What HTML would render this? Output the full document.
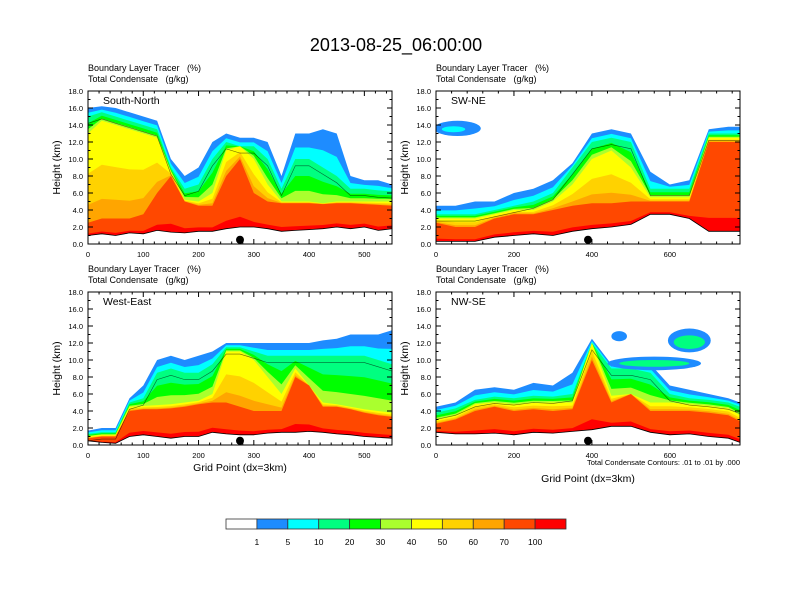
<!DOCTYPE html>
<html><head><meta charset="utf-8">
<style>
body{margin:0;background:#fff;}
svg{display:block;font-family:"Liberation Sans",sans-serif;}
</style></head>
<body>
<svg id="fig" width="792" height="612" viewBox="0 0 792 612">
<text x="396" y="51" font-size="18" text-anchor="middle">2013-08-25_06:00:00</text>
<g id="panels"></g>
<g id="cbar"></g>
</svg>
<script>
// ---- data ----
const levelLabels = ["1","5","10","20","30","40","50","60","70","100"];
const levelColors = ["#ffffff","#1e8cff","#00ffff","#00ff80","#00ff00","#aaff2e","#ffff00","#ffd200","#ffa500","#ff4800","#ff0000"];

const p1X = [0,25,50,75,100,125,150,175,200,225,250,275,300,325,350,375,400,425,450,475,500,525,550];
const p1Ground = [1.0,1.2,1.0,1.3,1.2,1.6,1.4,1.3,1.5,1.5,1.8,2.0,2.0,1.8,1.5,1.6,1.7,1.8,2.0,1.8,2.0,1.6,1.8];
const p1Red = [2.5,3,3,3,3.5,6,8,5,4.5,4.5,8,10,6,5,4.8,4.8,4.8,4.7,4.8,4.8,4.7,4.6,4.5];
const p1Yellow = [13,14.5,14,13.5,13,12.5,8.5,5.2,5,6,11,11.5,10,7,5,5,5,4.8,5,5,5,5,5];
const p1Green = [15,15.5,15,14.5,14,13.5,9,6.5,7,10,12,11.5,11.5,10,6.5,10,10,9,8,6.5,6.5,6.3,6.2];
const p1Blue = [16,16.2,16,15.5,15,14.5,10,8,9,12,13,12.5,12.5,12,8,13,13,13.5,13,8,7.5,7.5,7];

const p2X = [0,50,100,150,200,250,300,350,400,450,500,550,600,650,700,750,780];
const p2Ground = [0.3,0.3,0.3,0.8,1.0,1.2,1.0,1.5,1.8,2.0,2.3,3.5,3.5,3.0,1.5,1.5,1.5];
const p2Red = [2.5,2,2,3,3.5,3.5,4,4.5,4.8,4.8,5,5,5,5,12,12,12];
const p2Yellow = [3,3,3,3.5,4,4,5,7,10,11,9,5.5,5.5,5.5,12.5,12.5,12.5];
const p2Green = [3.5,3.5,3.5,4,4.5,5,6,9,12,12.5,12,6.5,6.5,6.5,13,13,13];
const p2Blue = [4.5,4.5,5,5,6,6.5,7.5,9.5,13,13.5,13,8.5,7,7.5,13.5,13.8,13.8];

const p3X = [0,25,50,75,100,125,150,175,200,225,250,275,300,325,350,375,400,425,450,475,500,525,550];
const p3Ground = [0.5,0.3,0.2,1.0,1.2,1.0,0.8,1.0,1.0,1.5,1.3,1.2,1.2,1.4,1.5,1.5,1.6,1.5,1.3,1.2,1.0,0.9,0.8];
const p3Red = [0.8,1,1,4,4.2,4.2,4.3,4.5,4.8,5,5,4.5,4,4,4,8,7,4.5,4.5,4.2,3.8,3.5,3.3];
const p3Yellow = [1,1.2,1.2,4.5,4.6,4.7,4.8,5,5.2,6,11,11,10,8,6,9,7,5,4.8,4.5,4.2,4,3.8];
const p3Green = [1.3,1.5,1.5,5,5.5,8.5,9,8.5,8.5,9.5,11.5,11.5,11,10.5,10.5,10.5,10.5,10.5,10.5,10.5,10.5,10,9.5];
const p3Blue = [1.7,2,2,5.5,7,10,10.5,10,10.5,11,12,12,12,12,12,12,12,12.3,12.5,13,13,13,13.5];

const p4X = [0,50,100,150,200,250,300,350,400,450,500,550,600,650,700,750,780];
const p4Ground = [1.5,1.3,1.3,1.4,1.2,1.5,1.4,1.6,1.8,2.2,2.2,1.5,1.2,1.3,1.0,0.8,0.3];
const p4Red = [2.5,3,4,4.5,4,4.2,4,4.2,10,5,6,4,4,4,3.8,3.5,2.8];
const p4Yellow = [3,3.5,4.8,5,4.8,5,5,5,12,5.8,6,5,5,4.8,4.6,4.3,3.5];
const p4Green = [3.8,4.3,5.3,5.7,5.5,5.8,5.7,6,12,9,9,8.5,6,5.5,5.3,5,4.5];
const p4Blue = [4.5,5,6.5,6.8,6.5,7.3,7,8.5,12.5,9.5,10,9.5,7,6.5,6,5.5,5];

// detached cloud blobs: [gridX, heightKm, halfWidthGrid, halfHeightKm, colorIndex]
const p1Blobs = [];
const p2Blobs = [[55,13.6,60,0.9,1],[45,13.5,30,0.35,2]];
const p3Blobs = [];
const p4Blobs = [[650,12.3,55,1.4,1],[650,12.1,40,0.8,3],[560,9.6,120,0.8,1],[560,9.6,90,0.4,3],[470,12.8,20,0.6,1]];

const panels = [
 {name:"south-north",title:"South-North",x0:88,y0:91,xmax:550,xt:[0,100,200,300,400,500],X:p1X,G:p1Ground,R:p1Red,Y:p1Yellow,Gr:p1Green,B:p1Blue,blobs:p1Blobs,dot:275,xlab:0},
 {name:"sw-ne",title:"SW-NE",x0:436,y0:91,xmax:780,xt:[0,200,400,600],X:p2X,G:p2Ground,R:p2Red,Y:p2Yellow,Gr:p2Green,B:p2Blue,blobs:p2Blobs,dot:390,xlab:0},
 {name:"west-east",title:"West-East",x0:88,y0:292,xmax:550,xt:[0,100,200,300,400,500],X:p3X,G:p3Ground,R:p3Red,Y:p3Yellow,Gr:p3Green,B:p3Blue,blobs:p3Blobs,dot:275,xlab:471},
 {name:"nw-se",title:"NW-SE",x0:436,y0:292,xmax:780,xt:[0,200,400,600],X:p4X,G:p4Ground,R:p4Red,Y:p4Yellow,Gr:p4Green,B:p4Blue,blobs:p4Blobs,dot:390,xlab:482}
];

const NS="http://www.w3.org/2000/svg";
function mk(tag,attrs,parent){const e=document.createElementNS(NS,tag);for(const k in attrs)e.setAttribute(k,attrs[k]);parent.appendChild(e);return e;}
const W=304,H=153;
const root=document.getElementById('panels');

panels.forEach(p=>{
  const g=mk('g',{},root);
  
  
  const sx=v=>p.x0+v/p.xmax*W;
  const sy=v=>p.y0+H-v/18*H;
  const clipId='clip-'+p.name;
  const cp=mk('clipPath',{id:clipId},g);
  mk('rect',{x:p.x0,y:p.y0,width:W,height:H},cp);
  const fg=mk('g',{'clip-path':'url(#'+clipId+')'},g);
  const n=p.X.length;
  const mixTop=(a,b,f)=>a.map((v,i)=>v+(b[i]-v)*f);
  const Y2=p.Y.map((v,i)=>Math.max(v,p.R[i]));
  const Gr2=p.Gr.map((v,i)=>Math.max(v,Y2[i]));
  const B2=p.B.map((v,i)=>Math.max(v,Gr2[i]));
  const bands=[
   [1,B2],[2,mixTop(Gr2,B2,0.45)],[3,Gr2],[4,mixTop(Y2,Gr2,0.6)],[5,mixTop(Y2,Gr2,0.25)],
   [6,Y2],[7,mixTop(p.R,Y2,0.55)],[8,mixTop(p.R,Y2,0.2)],[9,p.R],[10,mixTop(p.G,p.R,0.15)]
  ];
  bands.forEach(([ci,top])=>{
    let d='M'+sx(p.X[0])+','+sy(0);
    for(let i=0;i<n;i++) d+=' L'+sx(p.X[i]).toFixed(1)+','+sy(top[i]).toFixed(1);
    d+=' L'+sx(p.X[n-1])+','+sy(0)+' Z';
    const e=mk('path',{d:d,fill:levelColors[ci]},fg);
    
    
  });
  p.blobs.forEach(b=>{
    const e=mk('ellipse',{cx:sx(b[0]),cy:sy(b[1]),rx:b[2]/p.xmax*W,ry:b[3]/18*H,fill:levelColors[b[4]]},fg);
    
    
  });
  let d='M'+sx(p.X[0])+','+sy(0);
  let line='';
  for(let i=0;i<n;i++){d+=' L'+sx(p.X[i]).toFixed(1)+','+sy(p.G[i]).toFixed(1);line+=(i?' L':'M')+sx(p.X[i]).toFixed(1)+','+sy(p.G[i]).toFixed(1);}
  d+=' L'+sx(p.X[n-1])+','+sy(0)+' Z';
  mk('path',{d:d,fill:'#fff'},fg);
  const gl=mk('path',{d:line,fill:'none',stroke:'#000','stroke-width':0.8},fg);
  
  
  let cl='';
  for(let i=0;i<n;i++) cl+=(i?' L':'M')+sx(p.X[i]).toFixed(1)+','+sy(Math.max(p.G[i],Gr2[i]-0.8)).toFixed(1);
  const cc=mk('path',{d:cl,fill:'none',stroke:'#000','stroke-width':0.6,opacity:0.6},fg);
  
  
  const dot=mk('circle',{cx:sx(p.dot),cy:sy(0.5),r:4,fill:'#000'},g);
  
  
  mk('rect',{x:p.x0,y:p.y0,width:W,height:H,fill:'none',stroke:'#000','stroke-width':1},g);
  for(let v=0;v<=18;v+=2){
    const y=sy(v);
    mk('line',{x1:p.x0,y1:y,x2:p.x0+5,y2:y,stroke:'#000'},g);
    mk('line',{x1:p.x0+W,y1:y,x2:p.x0+W-5,y2:y,stroke:'#000'},g);
    if(v<18){mk('line',{x1:p.x0,y1:sy(v+1),x2:p.x0+2.5,y2:sy(v+1),stroke:'#000'},g);mk('line',{x1:p.x0+W,y1:sy(v+1),x2:p.x0+W-2.5,y2:sy(v+1),stroke:'#000'},g);}
    const t=mk('text',{x:p.x0-5,y:y+3,'font-size':7.5,'text-anchor':'end'},g);
    t.textContent=v.toFixed(1);
    
    
  }
  const step=p.xmax>600?200:100;
  for(let v=0;v<=p.xmax;v+=step/5){
    const x=sx(v), major=(v%step===0);
    const L=major?5:2.5;
    mk('line',{x1:x,y1:p.y0+H,x2:x,y2:p.y0+H-L,stroke:'#000'},g);
    mk('line',{x1:x,y1:p.y0,x2:x,y2:p.y0+L,stroke:'#000'},g);
  }
  p.xt.forEach(v=>{
    const t=mk('text',{x:sx(v),y:p.y0+H+13,'font-size':7.5,'text-anchor':'middle'},g);
    t.textContent=String(v);
    
    
  });
  const yl=mk('text',{x:0,y:0,'font-size':10.5,'text-anchor':'middle',transform:'translate('+(p.x0-28)+','+(p.y0+H/2)+') rotate(-90)'},g);
  yl.textContent='Height (km)';
  
  
  const h1=mk('text',{x:p.x0,y:p.y0-20,'font-size':9},g);
  h1.textContent='Boundary Layer Tracer\u00a0\u00a0\u00a0(%)';
  
  
  const h2=mk('text',{x:p.x0,y:p.y0-9,'font-size':9},g);
  h2.textContent='Total Condensate\u00a0\u00a0\u00a0(g/kg)';
  
  
  const pt=mk('text',{x:p.x0+15,y:p.y0+13,'font-size':10.5},g);
  pt.textContent=p.title;
  
  
  if(p.xlab){
    const xl=mk('text',{x:p.x0+W/2,y:p.xlab,'font-size':10.5,'text-anchor':'middle'},g);
    xl.textContent='Grid Point (dx=3km)';
    
    
  }
});
const note=mk('text',{x:740,y:465,'font-size':7.5,'text-anchor':'end'},root);
note.textContent='Total Condensate Contours: .01 to .01 by .000';



const cb=document.getElementById('cbar');
const cbx=226, cbw=340/11;
levelColors.forEach((c,i)=>{
  const r=mk('rect',{x:cbx+i*cbw,y:519,width:cbw,height:10,fill:c,stroke:'#333','stroke-width':0.8},cb);
  
  
});
levelLabels.forEach((l,i)=>{
  const t=mk('text',{x:cbx+(i+1)*cbw,y:545,'font-size':8.5,'text-anchor':'middle'},cb);
  t.textContent=l;
  
  
});
</script>
</body></html>
